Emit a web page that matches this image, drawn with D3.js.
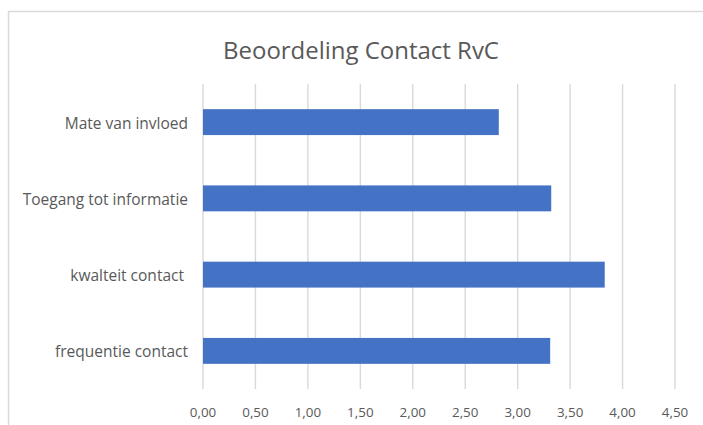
<!DOCTYPE html>
<html>
<head>
<meta charset="utf-8">
<script src="https://cdn.jsdelivr.net/npm/d3@7"></script>
<style>
  body { margin: 0; background: #fff; }
  text { font-family: "Open Sans", "Noto Sans", sans-serif; fill: #595959; }
</style>
</head>
<body>
<script>
// Chart data (top to bottom as drawn)
var categories = ["Mate van invloed", "Toegang tot informatie", "kwalteit contact ", "frequentie contact"];
var values = [2.82, 3.32, 3.83, 3.31];
var tickValues = [0, 0.5, 1, 1.5, 2, 2.5, 3, 3.5, 4, 4.5];
var title = "Beoordeling Contact RvC";

var width = 703,
    height = 425;

var plot = {left: 203, right: 675, top: 84, bottom: 389};

var svg = d3.select("body").append("svg")
    .attr("width", width)
    .attr("height", height);

// chart area outline (runs off the right and bottom of the picture)
svg.append("rect")
    .attr("x", 8.5)
    .attr("y", 11.5)
    .attr("width", width)
    .attr("height", height)
    .attr("fill", "#fff")
    .attr("stroke", "#d9d9d9")
    .attr("stroke-width", 1.5);

var x = d3.scaleLinear()
    .domain([0, 4.5])
    .range([plot.left, plot.right]);

var y = d3.scaleBand()
    .domain(categories)
    .range([plot.top, plot.bottom])
    .paddingInner(0.66)
    .paddingOuter(0.33);

// shrink/grow font so the text spans the width seen in the reference
function fit(sel, target) {
    sel.each(function () {
        var t = d3.select(this),
            fs = parseFloat(t.style("font-size")),
            w = this.getComputedTextLength();
        t.style("font-size", (fs * target / w) + "px");
    });
}

// vertical gridlines
svg.append("g")
    .selectAll("line")
    .data(tickValues)
    .enter()
    .append("line")
    .attr("x1", d => x(d))
    .attr("x2", d => x(d))
    .attr("y1", plot.top)
    .attr("y2", plot.bottom)
    .attr("stroke", "#d9d9d9")
    .attr("stroke-width", 1.4);

// bars
svg.append("g")
    .selectAll("rect")
    .data(values)
    .enter()
    .append("rect")
    .attr("x", x(0))
    .attr("y", (d, i) => y(categories[i]))
    .attr("width", d => x(d) - x(0))
    .attr("height", y.bandwidth())
    .attr("fill", "#4472c4");

// x tick labels
svg.append("g")
    .selectAll("text")
    .data(tickValues)
    .enter()
    .append("text")
    .attr("x", d => x(d))
    .attr("y", 417)
    .attr("text-anchor", "middle")
    .style("font-size", "13.4px")
    .text(d => d3.format(".2f")(d).replace(".", ","));

// category labels
svg.append("g")
    .selectAll("text")
    .data(categories)
    .enter()
    .append("text")
    .attr("x", 188)
    .attr("y", d => y(d) + y.bandwidth() / 2 + 6.5)
    .attr("text-anchor", "end")
    .style("white-space", "pre")
    .style("font-size", "15.5px")
    .text(d => d);

// title
var t = svg.append("text")
    .attr("x", 361)
    .attr("y", 59)
    .attr("text-anchor", "middle")
    .style("font-size", "23.8px")
    .text(title);
fit(t, 276);
</script>
</body>
</html>
